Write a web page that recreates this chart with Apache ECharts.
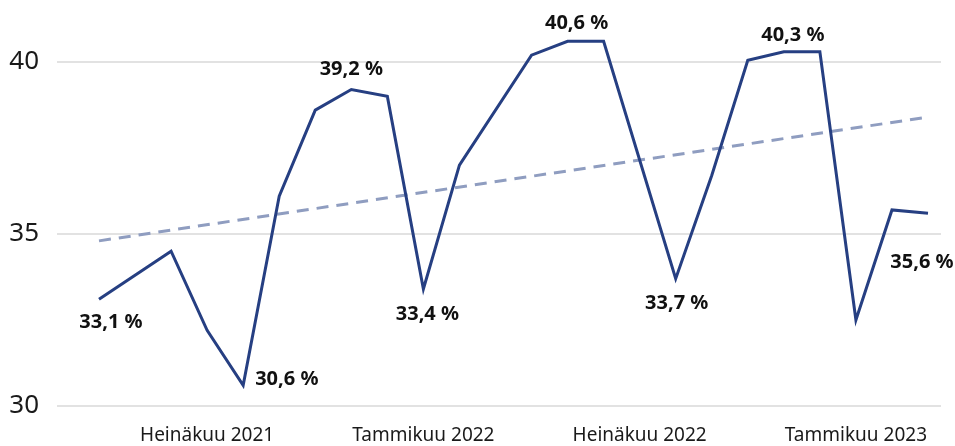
<!DOCTYPE html>
<html>
<head>
<meta charset="utf-8">
<script src="https://cdn.jsdelivr.net/npm/echarts@6/dist/echarts.min.js"></script>
<style>
html,body{margin:0;padding:0;background:#fff;}
#main{width:955px;height:446px;}
</style>
</head>
<body>
<div id="main"></div>
<script>
// kuukaudet huhtikuu 2021 - maaliskuu 2023
var months = ['Huhtikuu 2021','Toukokuu 2021','Kesäkuu 2021','Heinäkuu 2021','Elokuu 2021','Syyskuu 2021',
    'Lokakuu 2021','Marraskuu 2021','Joulukuu 2021','Tammikuu 2022','Helmikuu 2022','Maaliskuu 2022',
    'Huhtikuu 2022','Toukokuu 2022','Kesäkuu 2022','Heinäkuu 2022','Elokuu 2022','Syyskuu 2022',
    'Lokakuu 2022','Marraskuu 2022','Joulukuu 2022','Tammikuu 2023','Helmikuu 2023','Maaliskuu 2023'];
// osuus % (puuttuvat kuukaudet = null)
var values = [33.1, null, 34.5, 32.2, 30.6, 36.1, 38.6, 39.2, 39.0, 33.4, 37.0, null,
    40.2, 40.6, 40.6, null, 33.7, 36.7, 40.05, 40.3, 40.3, 32.5, 35.7, 35.6];
// trendiviivan alku ja loppu
var trendStart = 34.8;
var trendEnd = 38.4;
// näytettävät kuukausinimet
var shownLabels = [3, 9, 15, 21];
// arvot joilla on teksti
var labelled = [0, 4, 7, 9, 13, 16, 19, 23];

var labelPos = {
    0: {position: 'bottom', offset: [12, 8]},
    4: {position: 'right', offset: [7, -6]},
    7: {position: 'top', offset: [0, -5]},
    9: {position: 'bottom', offset: [4, 10]},
    13: {position: 'top', offset: [9, -3]},
    16: {position: 'bottom', offset: [1, 10]},
    19: {position: 'top', offset: [9, -1]},
    23: {position: 'bottom', offset: [-6, 34]}
};

var fontName = '"Noto Sans", "Open Sans", sans-serif';

var lineData = values.map(function (v, i) {
    if (labelled.indexOf(i) < 0) return v;
    var p = labelPos[i];
    return {
        value: v,
        label: {
            show: true,
            position: p.position,
            offset: p.offset
        }
    };
});

var trendData = values.map(function () { return null; });
trendData[0] = trendStart;
trendData[trendData.length - 1] = trendEnd;

var myChart = echarts.init(document.getElementById('main'));
var option = {
    animation: false,
    grid: [
        {left: 57, right: 14, top: -110, bottom: 40, outerBoundsMode: 'none', containLabel: false},
        {left: 99, right: 27, top: -110, bottom: 40, outerBoundsMode: 'none', containLabel: false}
    ],
    xAxis: [
        {
            gridIndex: 0, type: 'category', data: months, show: false
        },
        {
            gridIndex: 1, type: 'category', data: months, boundaryGap: false,
            axisLine: {show: false},
            axisTick: {show: false},
            axisLabel: {
                interval: function (i) { return shownLabels.indexOf(i) >= 0; },
                margin: 20,
                fontSize: 19,
                color: '#1a1a1a',
                fontFamily: fontName
            }
        }
    ],
    yAxis: [
        {
            gridIndex: 0, type: 'value', min: 30, max: 45, interval: 5,
            axisLine: {show: false},
            axisTick: {show: false},
            axisLabel: {margin: 18, fontSize: 26, color: '#1a1a1a', fontFamily: fontName},
            splitLine: {lineStyle: {color: '#d9d9d9', width: 1.5}}
        },
        {
            gridIndex: 1, type: 'value', min: 30, max: 45, interval: 5, show: false,
            splitLine: {show: false}
        }
    ],
    series: [
        {
            name: 'Trendi',
            type: 'line',
            xAxisIndex: 1, yAxisIndex: 1,
            data: trendData,
            connectNulls: true,
            symbol: 'none',
            lineStyle: {color: '#8f9dc0', width: 3, type: [12, 8]},
            z: 1
        },
        {
            name: 'Osuus',
            type: 'line',
            xAxisIndex: 1, yAxisIndex: 1,
            data: lineData,
            connectNulls: true,
            symbol: 'circle',
            symbolSize: 0,
            showSymbol: true,
            showAllSymbol: true,
            itemStyle: {color: '#263f82'},
            lineStyle: {color: '#263f82', width: 3, join: 'miter'},
            label: {
                fontSize: 20,
                fontWeight: 'bold',
                color: '#111',
                fontFamily: fontName,
                formatter: function (d) { return String(d.value).replace('.', ',') + ' %'; }
            },
            z: 2
        }
    ]
};
myChart.setOption(option);
</script>
</body>
</html>
